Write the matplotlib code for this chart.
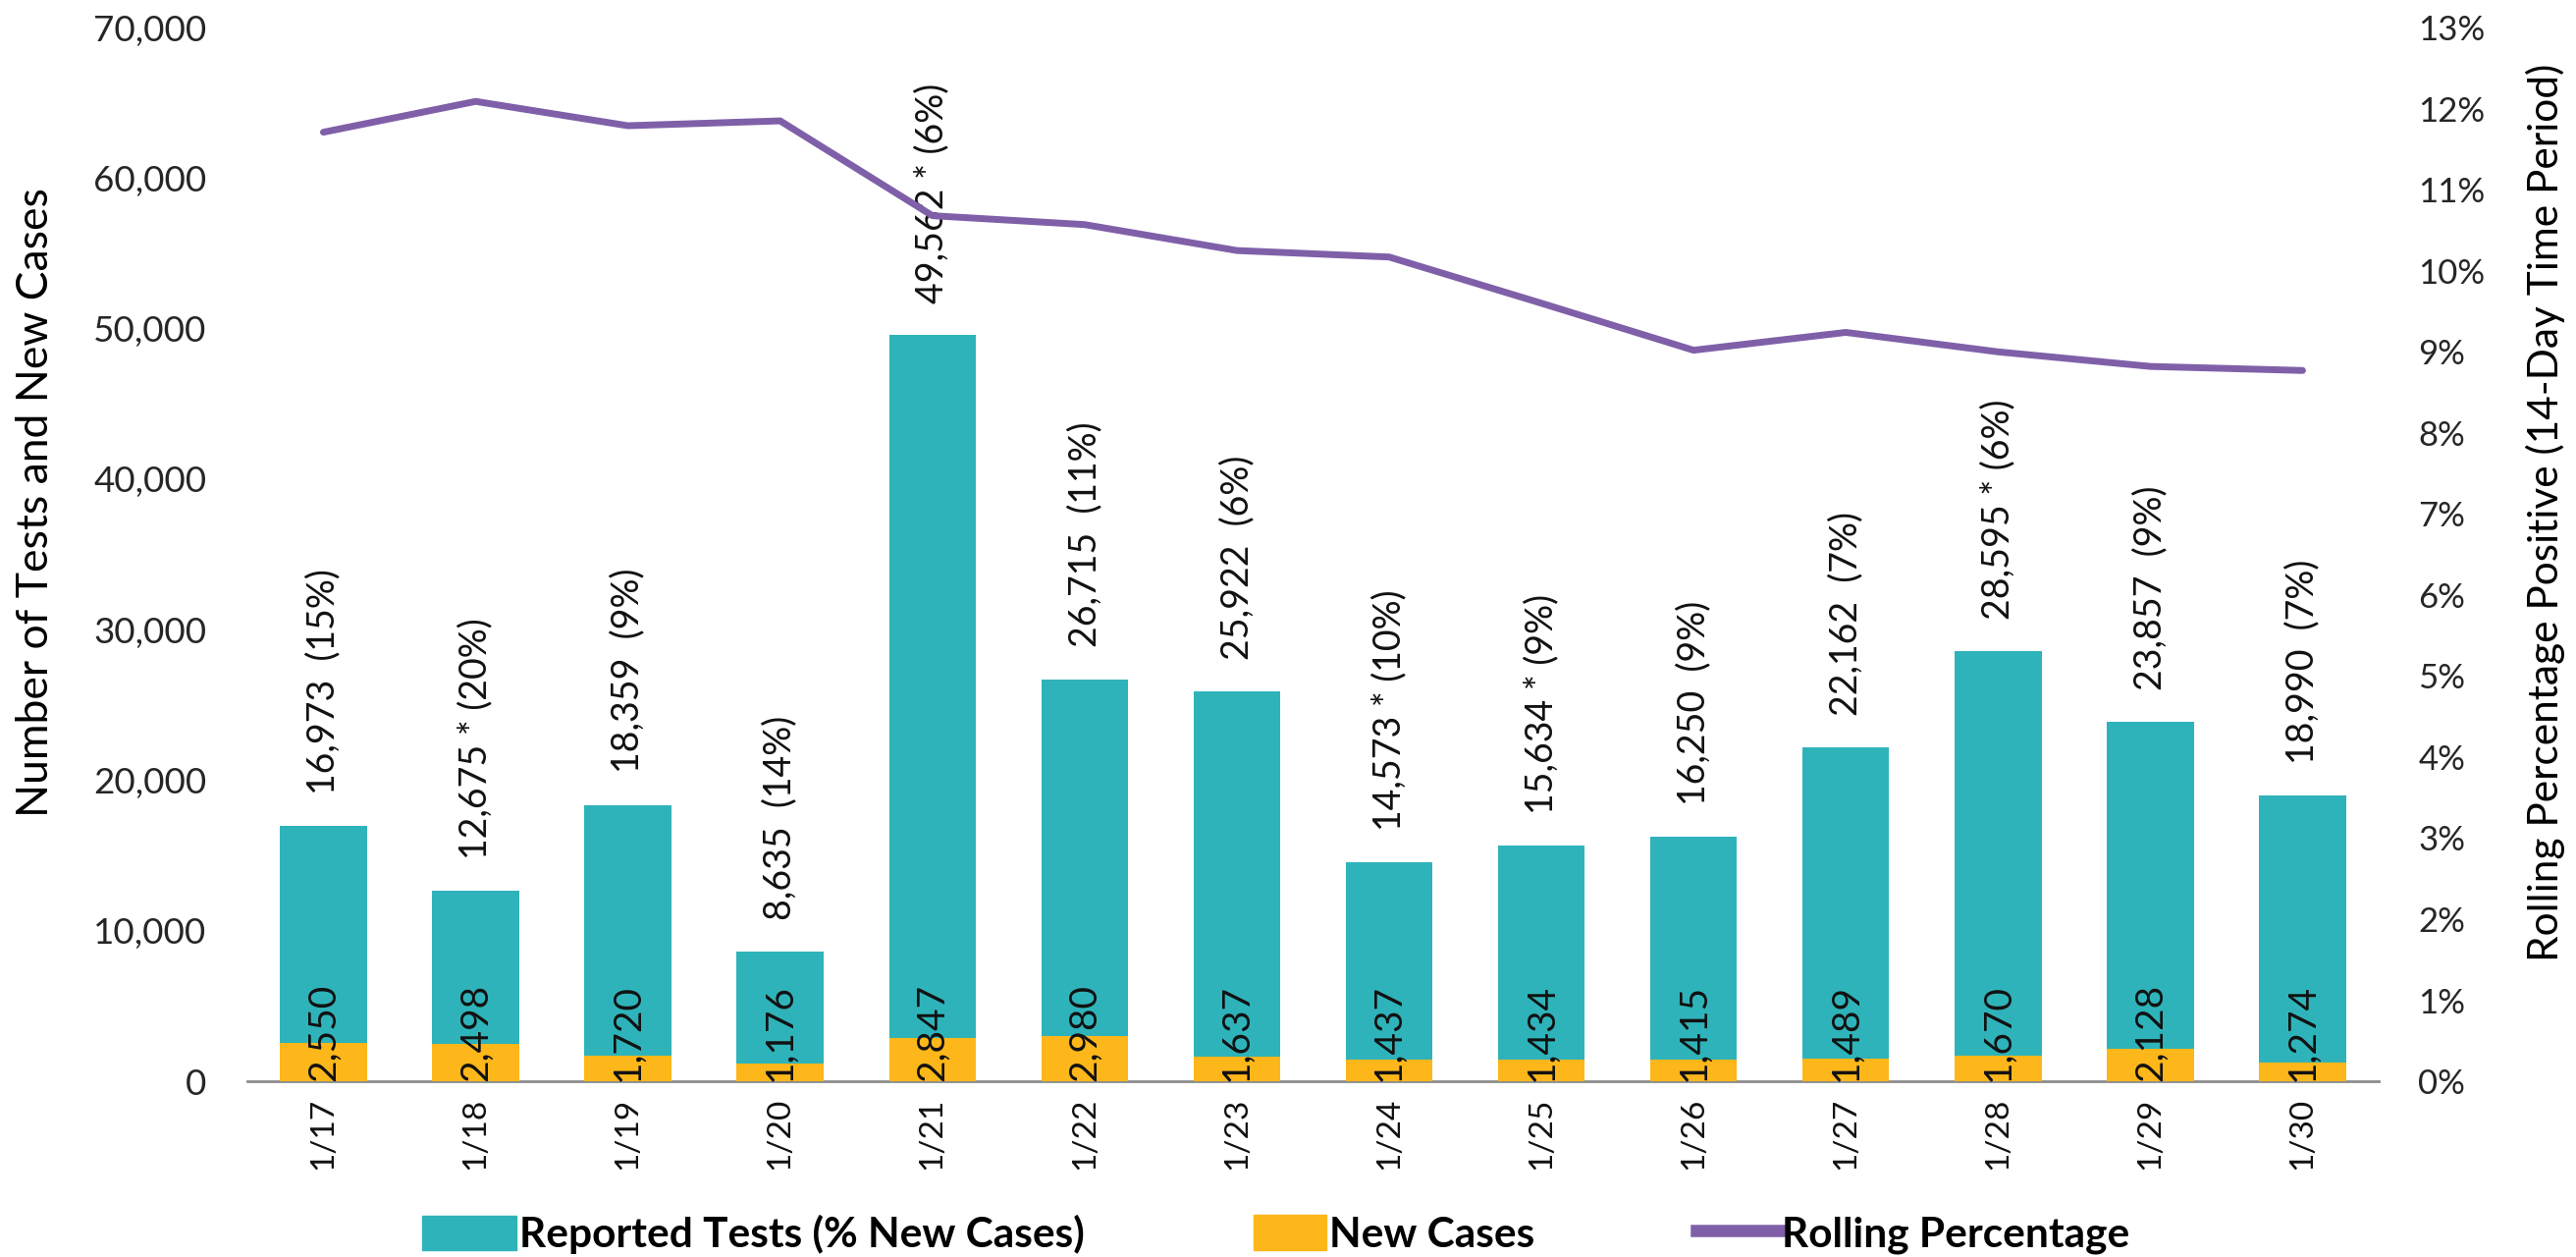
import numpy as np
import matplotlib
matplotlib.use("Agg")
import matplotlib.pyplot as plt
from matplotlib.ticker import FuncFormatter, MultipleLocator
from matplotlib.patches import Patch
from matplotlib.lines import Line2D

dates = ['1/17', '1/18', '1/19', '1/20', '1/21', '1/22', '1/23',
         '1/24', '1/25', '1/26', '1/27', '1/28', '1/29', '1/30']
tests = [16973, 12675, 18359, 8635, 49562, 26715, 25922,
         14573, 15634, 16250, 22162, 28595, 23857, 18990]
new_cases = [2550, 2498, 1720, 1176, 2847, 2980, 1637,
             1437, 1434, 1415, 1489, 1670, 2128, 1274]
pct_new = [15, 20, 9, 14, 6, 11, 6, 10, 9, 9, 7, 6, 9, 7]
starred = [False, True, False, False, True, False, False,
           True, True, False, False, True, False, False]
rolling = [11.71, 12.09, 11.79, 11.85, 10.68, 10.57, 10.25,
           10.17, 9.60, 9.02, 9.24, 9.00, 8.82, 8.77]

teal = '#2FB3BA'
orange = '#FDB71A'
purple = '#7F60A8'
font = ['Lato', 'DejaVu Sans']
plt.rcParams['font.family'] = font

fig = plt.figure(figsize=(26.24, 12.8), dpi=100)
ax = fig.add_axes([0.096, 0.1398, 0.8274, 0.8382])
x = np.arange(len(dates))

ax.bar(x, tests, width=0.57, color=teal, zorder=2)
ax.bar(x, new_cases, width=0.57, color=orange, zorder=3)

for i in range(len(dates)):
    star = ' *' if starred[i] else ' '
    ax.text(x[i], tests[i] + 2100, f'{tests[i]:,}{star} ({pct_new[i]}%)',
            rotation=90, ha='center', va='bottom', fontsize=27,
            color='#111111', zorder=5)
    ax.text(x[i], 0, f'{new_cases[i]:,}', rotation=90, ha='center',
            va='bottom', fontsize=28, color='#111111', zorder=5)

ax.set_xlim(-0.5, 13.5)
ax.set_ylim(0, 70000)
ax.yaxis.set_major_locator(MultipleLocator(10000))
ax.yaxis.set_major_formatter(FuncFormatter(lambda v, p: f'{int(v):,}'))
ax.set_xticks(x)
ax.set_xticklabels(dates, rotation=90, fontsize=24, color='#111111')
for lab in ax.get_yticklabels():
    lab.set_fontsize(26.5)
    lab.set_color('#262626')
ax.tick_params(axis='y', length=0, pad=30)
ax.tick_params(axis='x', length=0, pad=12)
for s in ['top', 'right', 'left']:
    ax.spines[s].set_visible(False)
ax.spines['bottom'].set_color('#8c8c8c')
ax.spines['bottom'].set_linewidth(2)
ax.set_ylabel('Number of Tests and New Cases', fontsize=32, labelpad=27, y=0.549)

ax2 = ax.twinx()
ax2.plot(x, rolling, color=purple, linewidth=5, solid_capstyle='round', zorder=4)
ax2.set_ylim(0, 13)
ax2.yaxis.set_major_locator(MultipleLocator(1))
ax2.yaxis.set_major_formatter(FuncFormatter(lambda v, p: f'{int(round(v))}%'))
for lab in ax2.get_yticklabels():
    lab.set_fontsize(25)
    lab.set_color('#262626')
ax2.tick_params(axis='y', length=0, pad=29)
for s in ['top', 'right', 'left', 'bottom']:
    ax2.spines[s].set_visible(False)
ax2.set_ylabel('Rolling Percentage Positive (14-Day Time Period)', fontsize=30.5,
               labelpad=30, y=0.54)

# legend items placed one by one so their spacing follows the reference
items = [(Patch(color=teal), 'Reported Tests (% New Cases)', 430, 2.27),
         (Patch(color=orange), 'New Cases', 1277, 1.75),
         (Line2D([0], [0], color=purple, linewidth=9), 'Rolling Percentage', 1728, 2.0)]
for handle, text, xpix, hlen in items:
    fig.legend([handle], [text], loc='center left',
               bbox_to_anchor=(xpix / 2624, 0.018), frameon=False,
               prop={'family': font, 'size': 30.5, 'weight': 'bold'},
               handlelength=hlen, handleheight=0.9, handletextpad=0.06,
               borderpad=0, borderaxespad=0)

fig.savefig('out.png', dpi=100)
